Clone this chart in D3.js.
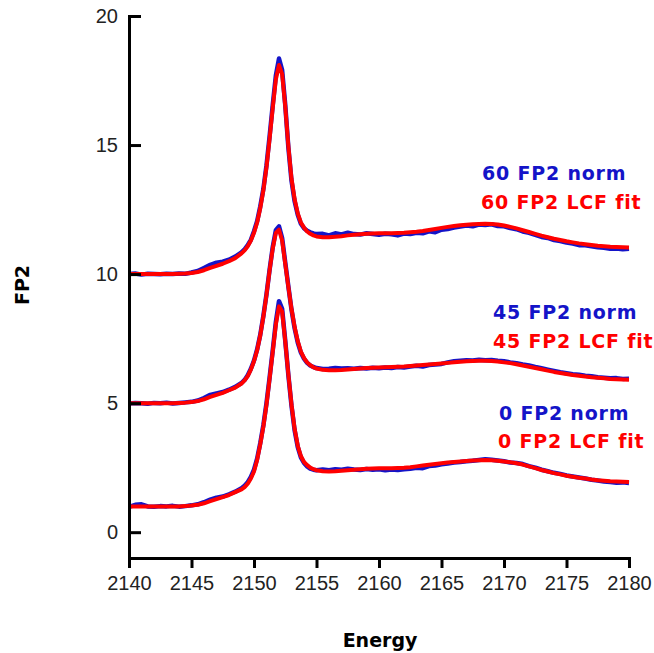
<!DOCTYPE html>
<html>
<head>
<meta charset="utf-8">
<script src="https://cdn.jsdelivr.net/npm/d3@7"></script>
<style>
  body { margin: 0; background: #fff; }
  .axis path, .axis line { stroke: #000; stroke-width: 3; }
  .axis text { font-family: 'Liberation Sans', Arial, sans-serif; font-size: 20px; fill: #222; }
  .title { font-family: 'DejaVu Sans', Verdana, sans-serif; font-weight: bold; fill: #000; }
  .legend { font-family: 'DejaVu Sans', Verdana, sans-serif; font-weight: bold; font-size: 19px; letter-spacing: 0.8px; }
</style>
</head>
<body>
<script>
const width = 654
const height = 653

// energy grid (eV)
const energy = [
  2140, 2140.5, 2141, 2141.5, 2142, 2142.5, 2143, 2143.5, 2144, 2144.5,
  2145, 2145.5, 2146, 2146.5, 2147, 2147.5, 2148, 2148.5, 2149, 2149.25,
  2149.5, 2149.75, 2150, 2150.25, 2150.5, 2150.75, 2151, 2151.25, 2151.5, 2151.75,
  2152, 2152.25, 2152.5, 2152.75, 2153, 2153.25, 2153.5, 2153.75, 2154, 2154.25,
  2154.5, 2154.75, 2155, 2155.5, 2156, 2156.5, 2157, 2157.5, 2158, 2158.5,
  2159, 2159.5, 2160, 2160.5, 2161, 2161.5, 2162, 2162.5, 2163, 2163.5,
  2164, 2164.5, 2165, 2165.5, 2166, 2166.5, 2167, 2167.5, 2168, 2168.5,
  2169, 2169.5, 2170, 2170.5, 2171, 2171.5, 2172, 2172.5, 2173, 2173.5,
  2174, 2174.5, 2175, 2175.5, 2176, 2176.5, 2177, 2177.5, 2178, 2178.5,
  2179, 2179.5, 2180
]

const norm60 = [
  10.00, 10.02, 9.98, 10.01, 10.00, 9.99, 10.01, 10.00, 10.02, 10.01,
  10.06, 10.12, 10.24, 10.36, 10.44, 10.48, 10.56, 10.68, 10.84, 10.96,
  11.12, 11.33, 11.66, 12.05, 12.62, 13.30, 14.22, 15.35, 16.55, 17.70,
  18.35, 17.90, 16.55, 14.90, 13.62, 12.82, 12.30, 11.95, 11.78, 11.68,
  11.62, 11.58, 11.55, 11.56, 11.50, 11.58, 11.54, 11.60, 11.55, 11.53,
  11.58, 11.55, 11.52, 11.56, 11.54, 11.50, 11.57, 11.55, 11.60, 11.58,
  11.66, 11.62, 11.72, 11.75, 11.80, 11.84, 11.88, 11.85, 11.92, 11.90,
  11.93, 11.86, 11.85, 11.78, 11.74, 11.65, 11.60, 11.52, 11.44, 11.40,
  11.32, 11.28, 11.22, 11.18, 11.12, 11.12, 11.08, 11.04, 11.02, 10.98,
  10.99, 10.96, 10.98
]
const fit60 = [
  10.00, 10.00, 10.00, 10.00, 10.00, 10.00, 10.00, 10.00, 10.01, 10.02,
  10.04, 10.08, 10.15, 10.24, 10.32, 10.40, 10.50, 10.62, 10.80, 10.92,
  11.08, 11.30, 11.60, 12.00, 12.55, 13.25, 14.15, 15.25, 16.45, 17.55,
  18.10, 17.75, 16.50, 14.95, 13.70, 12.90, 12.35, 12.00, 11.80, 11.65,
  11.56, 11.50, 11.46, 11.43, 11.43, 11.45, 11.47, 11.50, 11.52, 11.54,
  11.56, 11.57, 11.58, 11.58, 11.58, 11.59, 11.60, 11.62, 11.64, 11.67,
  11.71, 11.75, 11.79, 11.83, 11.86, 11.89, 11.91, 11.93, 11.94, 11.95,
  11.94, 11.92, 11.88, 11.83, 11.77, 11.70, 11.63, 11.56, 11.49, 11.43,
  11.37, 11.32, 11.27, 11.23, 11.19, 11.16, 11.13, 11.10, 11.08, 11.06,
  11.05, 11.04, 11.03
]

const norm45 = [
  4.99, 5.01, 5.00, 4.98, 5.01, 5.00, 5.02, 4.99, 5.01, 5.03,
  5.05, 5.10, 5.20, 5.32, 5.38, 5.43, 5.52, 5.63, 5.78, 5.90,
  6.08, 6.33, 6.65, 7.08, 7.65, 8.38, 9.22, 10.18, 11.05, 11.70,
  11.85, 11.40, 10.45, 9.52, 8.62, 7.90, 7.35, 6.96, 6.72, 6.56,
  6.46, 6.40, 6.36, 6.32, 6.33, 6.36, 6.34, 6.35, 6.33, 6.36,
  6.34, 6.37, 6.35, 6.38, 6.36, 6.40, 6.38, 6.42, 6.45, 6.42,
  6.48, 6.50, 6.52, 6.58, 6.62, 6.64, 6.66, 6.65, 6.68, 6.66,
  6.67, 6.64, 6.62, 6.58, 6.55, 6.50, 6.46, 6.40, 6.35, 6.30,
  6.25, 6.20, 6.16, 6.12, 6.10, 6.06, 6.04, 6.00, 5.98, 5.96,
  5.97, 5.94, 5.95
]
const fit45 = [
  5.00, 5.00, 5.00, 5.00, 5.00, 5.00, 5.00, 5.00, 5.01, 5.02,
  5.04, 5.08, 5.15, 5.24, 5.32, 5.40, 5.50, 5.60, 5.76, 5.88,
  6.05, 6.30, 6.62, 7.05, 7.62, 8.35, 9.20, 10.15, 11.00, 11.60,
  11.72, 11.30, 10.40, 9.50, 8.65, 7.95, 7.40, 7.00, 6.75, 6.58,
  6.47, 6.39, 6.34, 6.29, 6.27, 6.27, 6.28, 6.30, 6.32, 6.34,
  6.36, 6.37, 6.38, 6.39, 6.40, 6.41, 6.42, 6.44, 6.46, 6.48,
  6.50, 6.52, 6.54, 6.56, 6.58, 6.60, 6.62, 6.63, 6.64, 6.64,
  6.63, 6.61, 6.58, 6.55, 6.51, 6.46, 6.41, 6.36, 6.31, 6.26,
  6.21, 6.17, 6.13, 6.09, 6.06, 6.03, 6.00, 5.98, 5.96, 5.94,
  5.93, 5.92, 5.91
]

const norm0 = [
  0.98, 1.06, 1.08, 1.00, 0.99, 1.01, 1.00, 1.02, 0.99, 1.01,
  1.04, 1.08, 1.16, 1.26, 1.34, 1.38, 1.47, 1.57, 1.70, 1.80,
  1.94, 2.14, 2.42, 2.85, 3.45, 4.15, 5.00, 6.00, 7.05, 8.15,
  8.95, 8.65, 7.42, 6.08, 4.90, 3.95, 3.30, 2.90, 2.68, 2.55,
  2.46, 2.42, 2.40, 2.43, 2.40, 2.44, 2.42, 2.46, 2.43, 2.41,
  2.45, 2.42, 2.44, 2.40, 2.43, 2.41, 2.44, 2.46, 2.50, 2.48,
  2.56, 2.58, 2.63, 2.66, 2.70, 2.72, 2.75, 2.77, 2.80, 2.83,
  2.81, 2.78, 2.75, 2.70, 2.68, 2.64, 2.56, 2.50, 2.42, 2.36,
  2.30, 2.26, 2.20, 2.16, 2.12, 2.08, 2.03, 2.00, 1.96, 1.94,
  1.92, 1.93, 1.91
]
const fit0 = [
  1.00, 1.00, 1.00, 1.00, 1.00, 1.00, 1.00, 1.00, 1.00, 1.01,
  1.03, 1.06, 1.12, 1.20, 1.28, 1.36, 1.44, 1.55, 1.66, 1.75,
  1.88, 2.08, 2.35, 2.80, 3.40, 4.10, 4.95, 5.95, 7.00, 8.05,
  8.75, 8.55, 7.40, 6.10, 4.95, 4.00, 3.35, 2.95, 2.72, 2.60,
  2.50, 2.44, 2.40, 2.36, 2.35, 2.36, 2.38, 2.40, 2.42, 2.44,
  2.46, 2.47, 2.48, 2.48, 2.48, 2.49, 2.50, 2.52, 2.55, 2.58,
  2.61, 2.64, 2.67, 2.70, 2.72, 2.74, 2.76, 2.78, 2.79, 2.80,
  2.79, 2.77, 2.74, 2.71, 2.67, 2.62, 2.55, 2.48, 2.41, 2.35,
  2.29, 2.24, 2.19, 2.15, 2.11, 2.08, 2.04, 2.01, 1.99, 1.97,
  1.96, 1.95, 1.94
]

const xTicks = [2140, 2145, 2150, 2155, 2160, 2165, 2170, 2175, 2180]
const yTicks = [0, 5, 10, 15, 20]

const legendLabels = [
  { text: '60 FP2 norm', kind: 'norm', x: 482, y: 173 },
  { text: '60 FP2 LCF fit', kind: 'fit', x: 481, y: 202 },
  { text: '45 FP2 norm', kind: 'norm', x: 493, y: 312 },
  { text: '45 FP2 LCF fit', kind: 'fit', x: 493, y: 341 },
  { text: '0 FP2 norm', kind: 'norm', x: 499, y: 413 },
  { text: '0 FP2 LCF fit', kind: 'fit', x: 498, y: 441 }
]

const colors = { norm: '#1414c8', fit: '#ff0000' }

let svg = d3.select('body').append('svg')
  .attr('width', width)
  .attr('height', height)

const x = d3.scaleLinear().domain([2140, 2180]).range([129, 629])
const y = d3.scaleLinear().domain([-1, 20]).range([558, 16])

const line = d3.line()
  .x((d) => x(d[0]))
  .y((d) => y(d[1]))

const series = [
  { kind: 'norm', values: norm60 },
  { kind: 'norm', values: norm45 },
  { kind: 'norm', values: norm0 },
  { kind: 'fit', values: fit60 },
  { kind: 'fit', values: fit45 },
  { kind: 'fit', values: fit0 }
]

svg.append('g')
  .selectAll('path')
  .data(series)
  .enter()
  .append('path')
  .attr('fill', 'none')
  .attr('stroke', (d) => colors[d.kind])
  .attr('stroke-width', (d) => d.kind === 'fit' ? 4 : 4.5)
  .attr('stroke-linejoin', 'round')
  .attr('d', (d) => line(energy.map((e, i) => [e, d.values[i]])))

// axes
svg.append('g')
  .attr('class', 'axis')
  .attr('transform', `translate(0,${y(-1)})`)
  .call(d3.axisBottom(x).tickValues(xTicks).tickFormat(d3.format('d'))
    .tickSizeInner(10).tickSizeOuter(0).tickPadding(8))

svg.append('g')
  .attr('class', 'axis')
  .attr('transform', `translate(${x(2140)},0)`)
  .call(d3.axisLeft(y).tickValues(yTicks)
    .tickSizeInner(-12).tickSizeOuter(0).tickPadding(11))

svg.selectAll('.axis path').attr('stroke-linecap', 'square')

// axis titles
svg.append('text')
  .attr('class', 'title')
  .attr('transform', 'translate(29,285) rotate(-90)')
  .attr('text-anchor', 'middle')
  .style('font-size', '19px')
  .text('FP2')

svg.append('text')
  .attr('class', 'title')
  .attr('x', 380)
  .attr('y', 647)
  .attr('text-anchor', 'middle')
  .style('font-size', '19px')
  .text('Energy')

// legend labels
svg.append('g')
  .selectAll('text')
  .data(legendLabels)
  .enter()
  .append('text')
  .attr('class', 'legend')
  .attr('x', (d) => d.x)
  .attr('y', (d) => d.y)
  .attr('dy', '0.36em')
  .attr('fill', (d) => colors[d.kind])
  .text((d) => d.text)
</script>
</body>
</html>
